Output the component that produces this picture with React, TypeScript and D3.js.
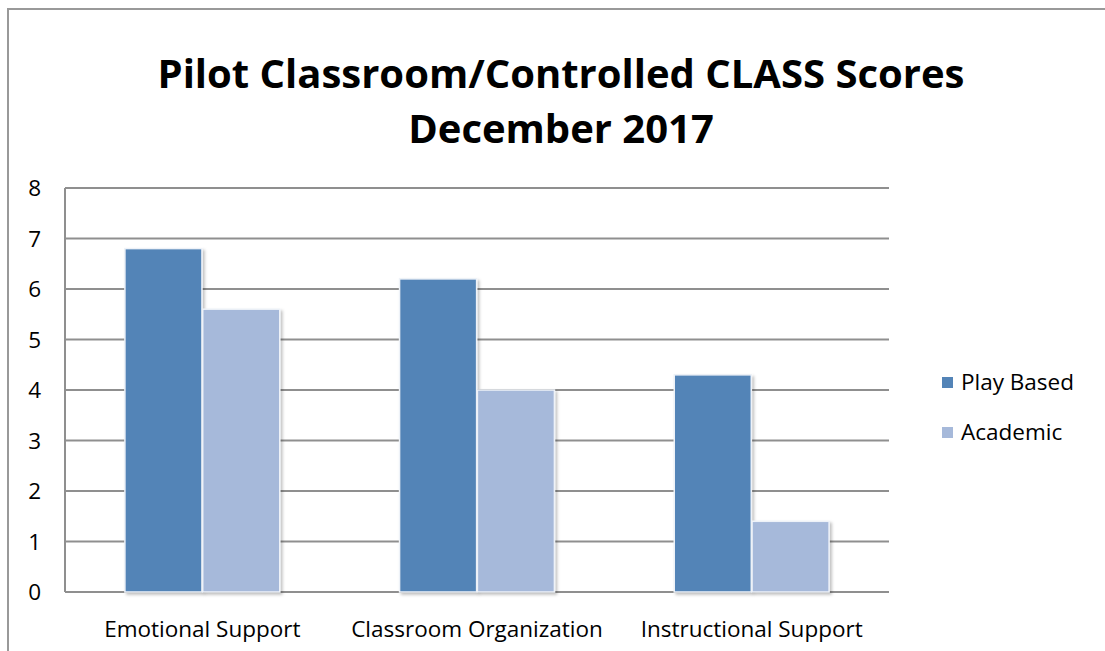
import React from "react";
import * as d3 from "d3";

const categories = ["Emotional Support", "Classroom Organization", "Instructional Support"];
const seriesNames = ["Play Based", "Academic"];
const playBased = [6.8, 6.2, 4.3];
const academic = [5.6, 4.0, 1.4];
const yTicks = [0, 1, 2, 3, 4, 5, 6, 7, 8];
const titleLines = ["Pilot Classroom/Controlled CLASS Scores", "December 2017"];
const colors = ["#5384B7", "#A6B9DA"];

const W = 1105;
const H = 651;
const plot = { left: 65, right: 889, top: 188, bottom: 592 };
const FONT = "'Open Sans', 'Liberation Sans', sans-serif";

export default function App() {
  const x0 = d3.scaleBand<string>().domain(categories).range([plot.left, plot.right]).paddingInner(0).paddingOuter(0);
  const x1 = d3
    .scaleBand<string>()
    .domain(seriesNames)
    .range([0, x0.bandwidth()])
    .paddingInner(0.01)
    .paddingOuter(0.77);
  const y = d3.scaleLinear().domain([0, 8]).range([plot.bottom, plot.top]);
  const series = [playBased, academic];

  return (
    <svg width={W} height={H} style={{ position: "absolute", left: 0, top: 0, background: "#fff" }}>
      <defs>
        <filter id="sh" x="-10%" y="-5%" width="125%" height="115%">
          <feDropShadow dx="2" dy="2" stdDeviation="1.5" floodColor="#000" floodOpacity="0.25" />
        </filter>
      </defs>
      <rect x={0} y={0} width={W} height={H} fill="#fff" />
      <path d={`M8,${H} V9 H${W}`} fill="none" stroke="#999" strokeWidth={2} />
      {titleLines.map((t, i) => (
        <text
          key={t}
          x={561}
          y={88 + i * 55}
          textAnchor="middle"
          fontFamily={FONT}
          fontWeight={700}
          fontSize={40}
          fill="#000"
        >
          {t}
        </text>
      ))}
      {yTicks.map((t) => (
        <g key={t}>
          <line x1={plot.left} x2={plot.right} y1={y(t)} y2={y(t)} stroke="#8f8f8f" strokeWidth={2} />
          <text x={41} y={y(t) + 8} textAnchor="end" fontFamily={FONT} fontSize={22.5} fill="#000">
            {t}
          </text>
        </g>
      ))}
      <line x1={plot.left} x2={plot.left} y1={plot.top} y2={plot.bottom} stroke="#8f8f8f" strokeWidth={2} />
      {categories.map((c, ci) => (
        <g key={c}>
          {seriesNames.map((s, si) => {
            const v = series[si][ci];
            const bx = (x0(c) as number) + (x1(s) as number);
            return (
              <rect
                key={s}
                x={bx}
                y={y(v)}
                width={x1.bandwidth()}
                height={y(0) - y(v)}
                fill={colors[si]}
                stroke="#eef2f8"
                strokeWidth={1.5}
                filter="url(#sh)"
              />
            );
          })}
          <text
            x={(x0(c) as number) + x0.bandwidth() / 2}
            y={637}
            textAnchor="middle"
            fontFamily={FONT}
            fontSize={22.5}
            fill="#000"
          >
            {c}
          </text>
        </g>
      ))}
      {seriesNames.map((s, i) => (
        <g key={s}>
          <rect x={942} y={377 + i * 50} width={11} height={11} fill={colors[i]} />
          <text x={961} y={390 + i * 50} fontFamily={FONT} fontSize={22.5} fill="#000">
            {s}
          </text>
        </g>
      ))}
    </svg>
  );
}
